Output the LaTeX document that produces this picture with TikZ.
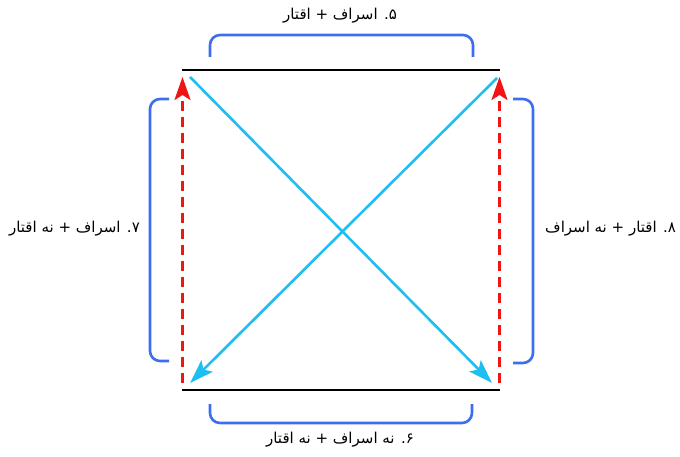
\documentclass[tikz,border=0pt]{standalone}
\usepackage{fontspec}
\TeXXeTstate=1
\newfontfamily\arabicfont[Script=Arabic]{DejaVu Sans}
\usetikzlibrary{arrows.meta}
\definecolor{brk}{RGB}{60,110,240}
\definecolor{cy}{RGB}{30,190,240}
\definecolor{rd}{RGB}{240,20,20}
\begin{document}
\begin{tikzpicture}[x=1pt,y=-1pt,
  bar/.style={line width=2.8pt,black},
  redarr/.style={rd,line width=2.6pt,dash pattern=on 10pt off 6pt,-{Stealth[length=23pt,width=16pt,inset=5pt]}},
  cyarr/.style={cy,line width=2.6pt,-{Stealth[length=24pt,width=16pt,inset=5pt]}},
  bracket/.style={brk,line width=2.6pt,rounded corners=10pt},
  lbl/.style={inner sep=0pt,font=\arabicfont\fontsize{15}{18}\selectfont}]
\useasboundingbox (0,0) rectangle (680,457);
% corners of the bars
\coordinate (TL) at (182,70);
\coordinate (TR) at (500,70);
\coordinate (BL) at (182,390);
\coordinate (BR) at (500,390);
\draw[bar] (TL) -- (TR);
\draw[bar] (BL) -- (BR);
% red dashed arrows
\coordinate (rLs) at (182.5,383);
\coordinate (rLe) at (182.5,77);
\coordinate (rRs) at (499.5,383);
\coordinate (rRe) at (499.5,77);
\draw[redarr] (rLs) -- (rLe);
\draw[redarr] (rRs) -- (rRe);
% cyan arrows
\coordinate (c1s) at (190,77);
\coordinate (c1e) at (492,383);
\coordinate (c2s) at (497,78);
\coordinate (c2e) at (190,383);
\draw[cyarr] (c1s) -- (c1e);
\draw[cyarr] (c2s) -- (c2e);
% brackets
\coordinate (tb1) at (210,57);
\coordinate (tb2) at (210,35);
\coordinate (tb3) at (473,35);
\coordinate (tb4) at (473,57);
\draw[bracket] (tb1) -- (tb2) -- (tb3) -- (tb4);
\coordinate (bb1) at (210,404);
\coordinate (bb2) at (210,423);
\coordinate (bb3) at (472,423);
\coordinate (bb4) at (472,404);
\draw[bracket] (bb1) -- (bb2) -- (bb3) -- (bb4);
\coordinate (lb1) at (169,99);
\coordinate (lb2) at (150,99);
\coordinate (lb3) at (150,361);
\coordinate (lb4) at (169,361);
\draw[bracket] (lb1) -- (lb2) -- (lb3) -- (lb4);
\coordinate (rb1) at (513,99);
\coordinate (rb2) at (533,99);
\coordinate (rb3) at (533,363);
\coordinate (rb4) at (513,363);
\draw[bracket] (rb1) -- (rb2) -- (rb3) -- (rb4);
% labels
\node[lbl] (l5) at (340,16) {\beginR ۵. اسراف + اقتار\endR};
\node[lbl] (l6) at (340,440) {\beginR ۶. نه اسراف + نه اقتار\endR};
\node[lbl,anchor=east] (l7) at (140,229) {\beginR ۷. اسراف + نه اقتار\endR};
\node[lbl,anchor=west] (l8) at (545,229) {\beginR ۸. اقتار + نه اسراف\endR};
\end{tikzpicture}
\end{document}
